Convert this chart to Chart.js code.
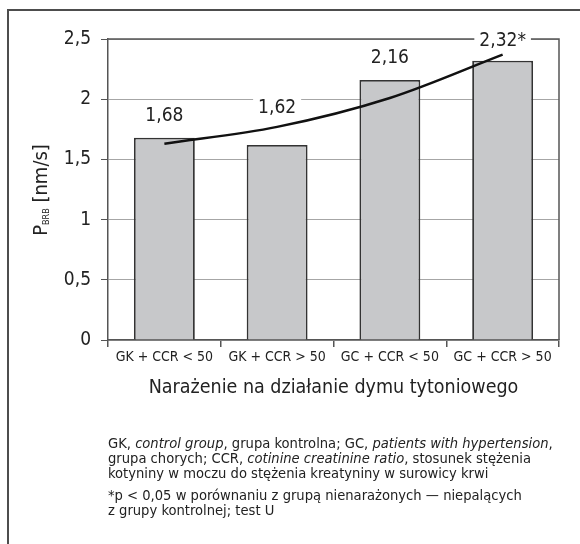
<!DOCTYPE html>
<html lang="pl">
<head>
<meta charset="utf-8">
<script src="https://cdn.jsdelivr.net/npm/chart.js@4.4.1/dist/chart.umd.min.js"></script>
<style>
  html, body { margin: 0; padding: 0; background: #fff; }
  #wrap { position: relative; width: 580px; height: 544px; overflow: hidden; }
  #frame { position: absolute; left: 7px; top: 9px; width: 700px; height: 700px;
           border-top: 2px solid #4d4d4d; border-left: 2px solid #4d4d4d; }
  #chart { position: absolute; left: 0; top: 0; }
  #note { position: absolute; left: 108px; top: 435px; width: 470px;
          font-family: "Liberation Sans Narrow", "DejaVu Sans Condensed", "Arial Narrow", sans-serif;
          font-size: 14.6px; line-height: 15px; color: #222; white-space: nowrap; }
  #note p { margin: 0 0 7px 0; }
</style>
</head>
<body>
<div id="wrap">
  <div id="frame"></div>
  <canvas id="chart" width="580" height="544"></canvas>
  <div id="note">
    <p>GK, <i>control group</i>, grupa kontrolna; GC, <i>patients with hypertension</i>,<br>
    grupa chorych; CCR, <i>cotinine creatinine ratio</i>, stosunek stężenia<br>
    kotyniny w moczu do stężenia kreatyniny w surowicy krwi</p>
    <p>*p &lt; 0,05 w porównaniu z grupą nienarażonych — niepalących<br>
    z grupy kontrolnej; test U</p>
  </div>
</div>
<script>
const groups = ["GK + CCR < 50", "GK + CCR > 50", "GC + CCR < 50", "GC + CCR > 50"];
const pbrb = [1.68, 1.62, 2.16, 2.32];
const marks = ["", "", "", "*"];
// trend curve at each bar centre
const trend = [1.63, 1.77, 2.01, 2.37];
const yTicks = [0, 0.5, 1, 1.5, 2, 2.5];

const narrow = "'Liberation Sans Narrow', 'DejaVu Sans Condensed', 'Arial Narrow', sans-serif";
Chart.defaults.font.family = narrow;
Chart.defaults.color = "#222";

const comma = (v) => String(v).replace(".", ",");

// extra lift of each value label above its bar top (px)
const labelLift = [22, 37, 22, 20];

const extras = {
  id: "extras",
  afterDraw(chart) {
    const { ctx, chartArea: a } = chart;
    ctx.save();
    // top + right frame of the plot
    ctx.strokeStyle = "#555";
    ctx.lineWidth = 1.5;
    ctx.beginPath();
    ctx.moveTo(a.left, a.top);
    ctx.lineTo(a.right, a.top);
    ctx.lineTo(a.right, a.bottom);
    ctx.stroke();

    // value labels, white box knocks out grid/frame lines behind them
    const bars = chart.getDatasetMeta(1).data;
    ctx.font = "19px " + narrow;
    ctx.textAlign = "center";
    ctx.textBaseline = "middle";
    bars.forEach((bar, i) => {
      const txt = comma(pbrb[i]) + marks[i];
      const y = bar.y - labelLift[i];
      const w = ctx.measureText(txt).width;
      ctx.fillStyle = "#fff";
      ctx.fillRect(bar.x - w / 2 - 5, y - 13, w + 10, 24);
      ctx.fillStyle = "#222";
      ctx.fillText(txt, bar.x, y);
    });

    // y title with subscript
    const cx = 40, cy = 190;
    ctx.translate(cx, cy);
    ctx.rotate(-Math.PI / 2);
    ctx.textAlign = "left";
    ctx.textBaseline = "alphabetic";
    ctx.font = "20px " + narrow;
    const wP = ctx.measureText("P").width;
    const wU = ctx.measureText(" [nm/s]").width;
    ctx.font = "9px " + narrow;
    const wS = ctx.measureText("BRB").width;
    let x = -(wP + wS + wU) / 2;
    const base = 7;
    ctx.fillStyle = "#222";
    ctx.font = "20px " + narrow;
    ctx.fillText("P", x, base);
    x += wP;
    ctx.font = "9px " + narrow;
    ctx.fillText("BRB", x, base + 2);
    x += wS;
    ctx.font = "20px " + narrow;
    ctx.fillText(" [nm/s]", x, base);
    ctx.restore();
  }
};

new Chart(document.getElementById("chart"), {
  data: {
    labels: groups,
    datasets: [
      {
        type: "line",
        data: trend,
        borderColor: "#111",
        borderWidth: 2.5,
        pointRadius: 0,
        cubicInterpolationMode: "monotone",
        order: 0,
      },
      {
        type: "bar",
        data: pbrb,
        backgroundColor: "#c7c8ca",
        borderColor: "#333",
        borderWidth: 1.8,
        categoryPercentage: 1,
        barPercentage: 0.54,
        order: 1,
      },
    ],
  },
  options: {
    responsive: false,
    animation: false,
    events: [],
    layout: { padding: { left: 18, top: 39, right: 21, bottom: 142 } },
    plugins: { legend: { display: false }, tooltip: { enabled: false } },
    scales: {
      x: {
        offset: true,
        afterFit: (s) => { s.height = 62; },
        grid: { offset: true, drawOnChartArea: false, color: "#555", tickLength: 7, lineWidth: 1.5 },
        border: { color: "#555", width: 1.5 },
        ticks: { font: { size: 14 }, padding: 2, maxRotation: 0, color: "#222" },
        title: {
          display: true,
          text: "Narażenie na działanie dymu tytoniowego",
          font: { size: 19.5 },
          color: "#222",
          padding: { top: 0, bottom: 2 },
        },
      },
      y: {
        min: 0,
        max: 2.5,
        afterFit: (s) => { s.width = 90; },
        afterBuildTicks: (s) => { s.ticks = yTicks.map((v) => ({ value: v })); },
        grid: { color: "#a6a6a6", tickColor: "#555", tickLength: 7, lineWidth: 1 },
        border: { color: "#555", width: 1.5 },
        ticks: { font: { size: 19 }, padding: 10, color: "#222", callback: (v) => comma(v) },
      },
    },
  },
  plugins: [extras],
});
</script>
</body>
</html>
